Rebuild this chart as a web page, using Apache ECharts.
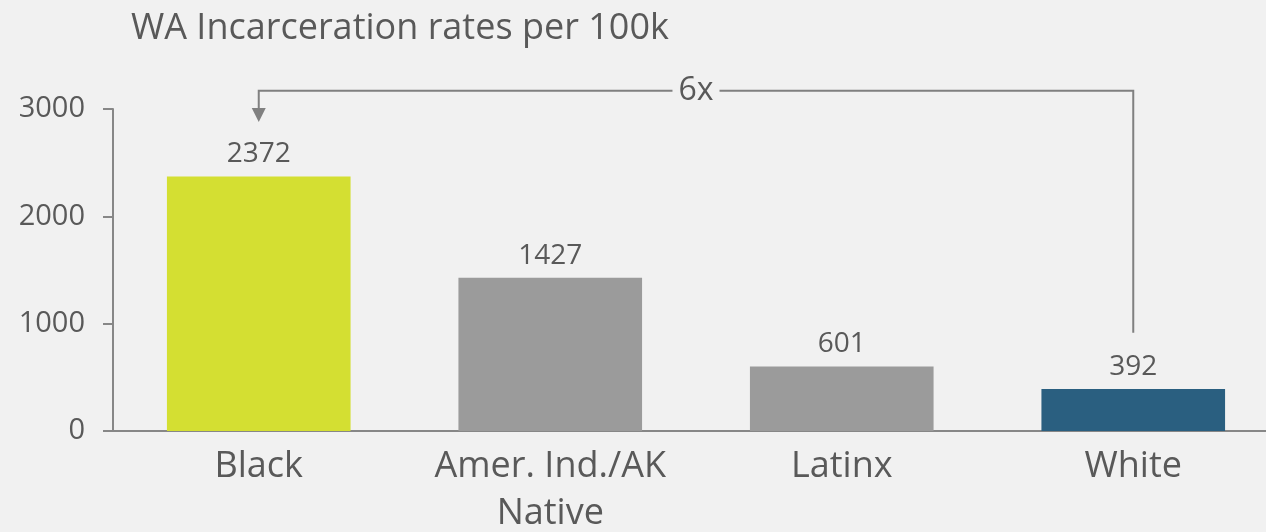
<!DOCTYPE html>
<html>
<head>
<meta charset="utf-8">
<script src="https://cdn.jsdelivr.net/npm/echarts@6/dist/echarts.min.js"></script>
<style>
  html, body { margin: 0; padding: 0; background: #f1f1f1; }
  #chart { width: 1266px; height: 532px; }
</style>
</head>
<body>
<div id="chart"></div>
<script>
// Incarceration rates per 100k residents, Washington State
const categories = ['Black', 'Amer. Ind./AK\nNative', 'Latinx', 'White'];
const rates = [2372, 1427, 601, 392];
const barColors = ['#d4df32', '#9b9b9b', '#9b9b9b', '#2a5f80'];
const yTicks = [0, 1000, 2000, 3000];
const titleText = 'WA Incarceration rates per 100k';
const ratioLabel = '6x';
// comparison bracket, in value-axis units: rail height, arrow tip over Black, foot over White
const bracketRail = 3170;
const bracketTip = 2880;
const bracketFoot = 915;
const bracketFrom = 0;   // category index of the arrow end
const bracketTo = 3;     // category index of the foot end

const FONT = '"Open Sans", "Noto Sans", sans-serif';
const TEXT = '#595959';
const AXIS = '#878787';

const chart = echarts.init(document.getElementById('chart'), null, { renderer: 'canvas' });

chart.setOption({
  backgroundColor: '#f1f1f1',
  animation: false,
  title: {
    text: titleText,
    left: 126,
    top: 6,
    textStyle: { fontFamily: FONT, fontSize: 36, fontWeight: 'normal', color: TEXT }
  },
  grid: {
    left: 113, top: 109, bottom: 101, width: 1166,
    containLabel: false, outerBoundsMode: 'none'
  },
  xAxis: {
    type: 'category',
    data: categories,
    axisLine: { lineStyle: { color: AXIS, width: 2 } },
    axisTick: { show: false },
    axisLabel: {
      interval: 0,
      margin: 12,
      fontFamily: FONT,
      fontSize: 36,
      lineHeight: 47,
      color: TEXT
    }
  },
  yAxis: {
    type: 'value',
    min: yTicks[0],
    max: yTicks[yTicks.length - 1],
    interval: yTicks[1] - yTicks[0],
    splitLine: { show: false },
    axisLine: { show: true, lineStyle: { color: AXIS, width: 2 } },
    axisTick: { show: true, length: 10, lineStyle: { color: AXIS, width: 2 } },
    axisLabel: {
      margin: 28, fontFamily: FONT, fontSize: 29, color: TEXT,
      formatter: v => String(v)
    }
  },
  series: [{
    type: 'bar',
    data: rates.map((v, i) => ({ value: v, itemStyle: { color: barColors[i] } })),
    barCategoryGap: '37%',
    label: {
      show: true,
      position: 'top',
      distance: 8,
      fontFamily: FONT,
      fontSize: 28,
      color: TEXT
    }
  }]
});

// bracket comparing the first and last bars
function drawBracket() {
  const p = (c, v) => chart.convertToPixel({ xAxisIndex: 0, yAxisIndex: 0 }, [c, v]);
  const tip = p(bracketFrom, bracketTip);
  const railL = p(bracketFrom, bracketRail);
  const railR = p(bracketTo, bracketRail);
  const foot = p(bracketTo, bracketFoot);
  const head = 14;
  const lineStyle = { stroke: '#808080', lineWidth: 2, fill: null };
  chart.setOption({
    graphic: [
      {
        type: 'polyline', silent: true,
        shape: { points: [[tip[0], tip[1] - head], railL, railR, foot] },
        style: lineStyle
      },
      {
        type: 'polygon', silent: true,
        shape: { points: [[tip[0] - 7, tip[1] - head], [tip[0] + 7, tip[1] - head], tip] },
        style: { fill: '#808080' }
      },
      {
        type: 'text', silent: true,
        x: (railL[0] + railR[0]) / 2, y: railL[1],
        style: {
          text: ratioLabel, fontFamily: FONT, fontSize: 32, fill: TEXT,
          align: 'center', verticalAlign: 'middle',
          backgroundColor: '#f1f1f1', padding: [0, 6]
        }
      }
    ]
  });
}
drawBracket();
</script>
</body>
</html>
